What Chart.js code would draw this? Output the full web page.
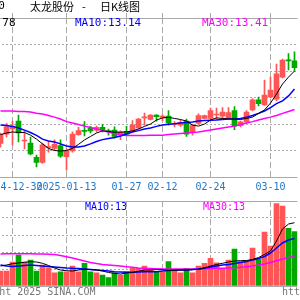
<!DOCTYPE html>
<html><head><meta charset="utf-8">
<script src="https://cdn.jsdelivr.net/npm/chart.js@4/dist/chart.umd.min.js"></script>
<style>
html,body{margin:0;padding:0;background:#fff;width:300px;height:300px;overflow:hidden;position:relative}
.t{position:absolute;white-space:pre;line-height:12px;}
.m11{font-family:"DejaVu Sans Mono",monospace;font-size:11px;}
.m10{font-family:"DejaVu Sans Mono",monospace;font-size:10px;}
.cjk{font-family:"Noto Sans CJK SC",sans-serif;font-size:11px;color:#000;}
canvas{position:absolute}
</style></head><body>
<canvas id="main" width="301" height="193" style="left:-3px;top:0"></canvas>
<canvas id="vol" width="301" height="92" style="left:-3px;top:195px"></canvas>

<div class="t m11" style="right:295px;top:0;color:#000">300650</div>
<div class="t cjk" style="left:30px;top:0">太龙股份</div>
<div class="t cjk" style="left:82px;top:0">-</div>
<div class="t cjk" style="left:100px;top:0">日K线图</div>

<div class="t m11" style="left:-44px;top:17px;color:#000">MA5:14.78</div>
<div class="t m11" style="left:75px;top:17px;color:#0000ff">MA10:13.14</div>
<div class="t m11" style="left:202px;top:17px;color:#ff00ff">MA30:13.41</div>

<div class="t m10" style="left:85px;top:201px;color:#0000ff">MA10:13</div>
<div class="t m10" style="left:203px;top:201px;color:#ff00ff">MA30:13</div>

<div class="t m10" style="left:-43px;top:286px;color:#777">Copyright 2025 SINA.COM</div>
<div class="t m10" style="left:282px;top:286px;color:#777">http://finance.sina.com.cn</div>

<script>
const dates = ['2024-12-26','2024-12-27','2024-12-30','2024-12-31','2025-01-02','2025-01-03','2025-01-06','2025-01-07','2025-01-08','2025-01-09',
'2025-01-10','2025-01-13','2025-01-14','2025-01-15','2025-01-16','2025-01-17','2025-01-20','2025-01-21','2025-01-22','2025-01-23',
'2025-01-24','2025-01-27','2025-02-05','2025-02-06','2025-02-07','2025-02-10','2025-02-11','2025-02-12','2025-02-13','2025-02-14',
'2025-02-17','2025-02-18','2025-02-19','2025-02-20','2025-02-21','2025-02-24','2025-02-25','2025-02-26','2025-02-27','2025-02-28',
'2025-03-03','2025-03-04','2025-03-05','2025-03-06','2025-03-07','2025-03-10','2025-03-11','2025-03-12','2025-03-13','2025-03-14'];

const opens  = [12.27,12.62,12.81,13.11,12.36,12.28,11.74,11.55,12.11,12.08,12.19,11.77,11.98,12.60,12.75,12.85,12.77,12.87,12.75,12.77,
12.58,12.72,12.74,12.85,13.23,13.17,13.34,13.25,13.30,12.98,12.96,13.11,12.68,13.02,13.21,13.21,13.34,13.30,13.23,13.51,
12.94,13.08,13.53,13.91,13.72,14.02,13.94,14.77,15.41,15.38];
const closes = [12.61,12.89,12.92,12.66,12.38,11.87,11.55,12.21,12.15,12.23,11.79,12.00,12.62,12.75,12.72,12.74,12.87,12.79,12.70,12.53,
12.70,12.62,12.96,13.19,13.26,13.34,13.28,13.30,13.04,12.99,13.06,12.62,12.94,13.32,13.32,13.51,13.36,13.45,13.43,12.92,
13.08,13.45,13.91,13.77,14.09,14.28,14.89,15.41,15.38,15.13];
const highs  = [12.66,13.02,13.11,13.34,12.74,12.51,11.83,12.28,12.34,12.40,12.40,12.06,12.70,12.87,13.09,12.91,12.92,12.99,12.81,12.89,
12.74,12.91,13.13,13.21,13.41,13.36,13.36,13.36,13.51,13.09,13.15,13.19,12.99,13.38,13.34,13.60,13.60,13.62,13.62,13.66,
13.11,13.51,13.96,14.02,14.66,14.77,15.26,15.45,15.66,15.72];
const lows   = [12.13,12.51,12.21,12.32,12.06,11.83,11.38,11.51,11.94,11.99,11.74,11.26,11.94,12.57,12.55,12.66,12.70,12.70,12.58,12.47,
12.41,12.58,12.70,12.81,12.96,13.15,13.11,13.13,12.96,12.89,12.91,12.53,12.58,12.98,13.19,13.19,13.17,13.23,13.19,12.79,
12.89,13.04,13.49,13.68,13.70,13.98,13.87,14.74,15.04,15.00];

const ma5  = [12.60,12.66,12.70,12.68,12.68,12.58,12.43,12.25,12.08,12.00,11.98,12.00,12.08,12.23,12.40,12.53,12.66,12.74,12.72,12.69,
12.69,12.70,12.74,12.81,12.91,13.00,13.15,13.23,13.25,13.21,13.17,13.11,12.96,12.92,13.00,13.15,13.23,13.21,13.19,13.19,
13.17,13.21,13.26,13.40,13.53,13.79,14.13,14.51,14.77,15.00];
const ma10 = [12.96,12.94,12.91,12.85,12.77,12.68,12.57,12.43,12.36,12.32,12.25,12.17,12.13,12.13,12.17,12.25,12.34,12.41,12.45,12.49,
12.55,12.62,12.70,12.75,12.81,12.85,12.91,12.96,12.99,13.01,13.04,13.06,13.08,13.11,13.13,13.14,13.15,13.17,13.19,13.19,
13.21,13.26,13.32,13.40,13.49,13.62,13.77,13.87,14.06,14.32];
const ma30 = [13.49,13.49,13.49,13.47,13.47,13.45,13.41,13.38,13.32,13.26,13.19,13.09,13.04,12.98,12.92,12.87,12.81,12.75,12.70,12.64,
12.60,12.57,12.57,12.57,12.57,12.58,12.58,12.58,12.60,12.62,12.64,12.66,12.68,12.70,12.74,12.77,12.81,12.85,12.89,12.92,
12.98,13.04,13.09,13.15,13.21,13.26,13.32,13.40,13.47,13.55];

const volumes = [17.6,17.6,28.2,36.5,28.2,30.6,17.6,24.7,21.5,15.6,16.8,16.8,23.5,16.8,26.7,16.8,15.6,12.9,9.8,15.6,
12.9,16.8,20.8,20.8,23.5,20.8,16.8,16.8,28.6,18.8,15.6,20.8,15.6,23.5,26.7,32.6,27.4,20.8,30.6,43.5,
28.6,28.6,44.7,31.4,63.5,47.1,97.1,94.1,67.9,63.9];
const vma5  = [23.5,24.7,26.2,27.1,27.9,28.6,28.2,26.7,24.1,21.2,18.8,18.0,17.6,18.8,19.6,19.4,18.8,17.6,15.9,14.9,
14.1,15.3,15.9,17.3,18.8,18.8,19.4,19.4,18.2,18.2,18.8,18.8,19.2,19.6,21.2,23.5,25.3,26.7,28.2,29.4,
29.8,30.0,31.2,33.5,37.1,41.2,52.9,67.1,72.9,74.5];
const vma10 = [24.7,23.5,22.9,23.5,24.1,24.7,24.1,23.5,22.9,22.4,21.8,21.2,20.8,20.6,20.0,19.4,18.8,18.2,17.6,16.8,
16.5,16.1,16.1,16.5,16.8,16.8,16.8,17.6,18.2,18.8,18.8,18.8,19.4,20.0,21.2,22.4,23.5,24.7,25.3,26.5,
27.6,28.8,30.6,32.4,34.7,38.8,44.7,50.6,54.1,55.9];
const vma30 = [37.6,38.0,38.0,38.0,38.0,38.0,37.6,37.6,37.3,37.1,35.9,34.5,32.9,31.2,29.4,27.6,26.5,25.3,24.7,24.1,
23.5,22.7,22.0,21.2,20.8,20.6,20.4,20.0,20.0,20.0,20.0,20.0,20.0,20.0,20.4,20.6,20.8,20.8,21.2,21.5,
22.0,22.7,23.5,24.7,25.9,27.6,29.8,31.8,33.5,34.7];

const tickDates  = ['2024-12-30','2025-01-13','2025-01-27','2025-02-12','2025-02-24','2025-03-10'];
const tickLabels = ['2024-12-30','2025-01-13','01-27','02-12','02-24','03-10'];

const priceMin = 11, priceMax = 17, priceStep = 1;
const volMin = 0, volMax = 100, volStep = 20;

const RED = '#ff5555', GREEN = '#00a800', GRID = '#aaaaaa';
const upColors = opens.map((o, i) => closes[i] >= o ? RED : GREEN);

const isTick = i => tickDates.indexOf(dates[i]) >= 0;
const fitX = h => s => { s.paddingLeft = 0; s.paddingRight = 0; s.height = h; };

function xAxis(showLabels) {
  return {
    type: 'category',
    offset: true,
    grid: {
      offset: false, drawTicks: false, lineWidth: 1,
      color: ctx => isTick(ctx.index) ? GRID : 'rgba(0,0,0,0)'
    },
    border: { display: false, dash: [6, 3] },
    ticks: {
      display: showLabels, autoSkip: false, maxRotation: 0, minRotation: 0, padding: 4,
      color: '#1e78c8',
      font: { family: 'DejaVu Sans Mono', size: 10 },
      callback: (v, i) => { const k = tickDates.indexOf(dates[i]); return k >= 0 ? tickLabels[k] : ''; }
    },
    afterFit: fitX(showLabels ? 16 : 0)
  };
}

function yAxis(min, max, step) {
  return {
    min, max,
    grid: { drawTicks: false, color: GRID, lineWidth: 1 },
    border: { display: false, dash: ctx => (ctx.tick && (ctx.tick.value === min || ctx.tick.value === max)) ? [] : [2, 2] },
    ticks: { display: false, stepSize: step },
    afterFit: s => { s.width = 0; }
  };
}

const common = {
  responsive: false, animation: false, events: [],
  plugins: { legend: { display: false }, tooltip: { enabled: false } }
};

new Chart(document.getElementById('main'), {
  type: 'bar',
  data: {
    labels: dates,
    datasets: [
      { type: 'line', data: ma5, borderColor: '#000000', borderWidth: 1, pointRadius: 0, tension: 0, order: 0 },
      { type: 'line', data: ma10, borderColor: '#0000ff', borderWidth: 1.5, pointRadius: 0, tension: 0, order: 0 },
      { type: 'line', data: ma30, borderColor: '#ff00ff', borderWidth: 1.5, pointRadius: 0, tension: 0, order: 0 },
      { data: lows.map((l, i) => [l, highs[i]]), backgroundColor: upColors, barThickness: 1, grouped: false, order: 2 },
      { data: opens.map((o, i) => [o, closes[i]]), backgroundColor: upColors, barThickness: 5, minBarLength: 1, grouped: false, order: 1 }
    ]
  },
  options: Object.assign({}, common, {
    layout: { padding: { top: 13, left: 0.5, right: 0.5, bottom: 0 } },
    scales: {
      x: xAxis(true),
      xTop: {
        type: 'category', position: 'top', labels: dates, offset: true,
        grid: { offset: false, drawOnChartArea: false, drawTicks: true, tickLength: 5, tickWidth: 1,
                tickColor: ctx => isTick(ctx.index) ? GRID : 'rgba(0,0,0,0)', tickBorderDash: [6, 3] },
        border: { display: false },
        ticks: { display: false, autoSkip: false },
        afterFit: fitX(5)
      },
      y: yAxis(priceMin, priceMax, priceStep)
    }
  })
});

new Chart(document.getElementById('vol'), {
  type: 'bar',
  data: {
    labels: dates,
    datasets: [
      { type: 'line', data: vma5, borderColor: '#000000', borderWidth: 1, pointRadius: 0, tension: 0, order: 0 },
      { type: 'line', data: vma10, borderColor: '#0000ff', borderWidth: 1.5, pointRadius: 0, tension: 0, order: 0 },
      { type: 'line', data: vma30, borderColor: '#ff00ff', borderWidth: 1.5, pointRadius: 0, tension: 0, order: 0 },
      { data: volumes, backgroundColor: upColors, barThickness: 5, order: 1 }
    ]
  },
  options: Object.assign({}, common, {
    layout: { padding: { top: 6, left: 0.5, right: 0.5, bottom: 1 } },
    scales: { x: xAxis(false), y: yAxis(volMin, volMax, volStep) }
  })
});
</script>
</body></html>
